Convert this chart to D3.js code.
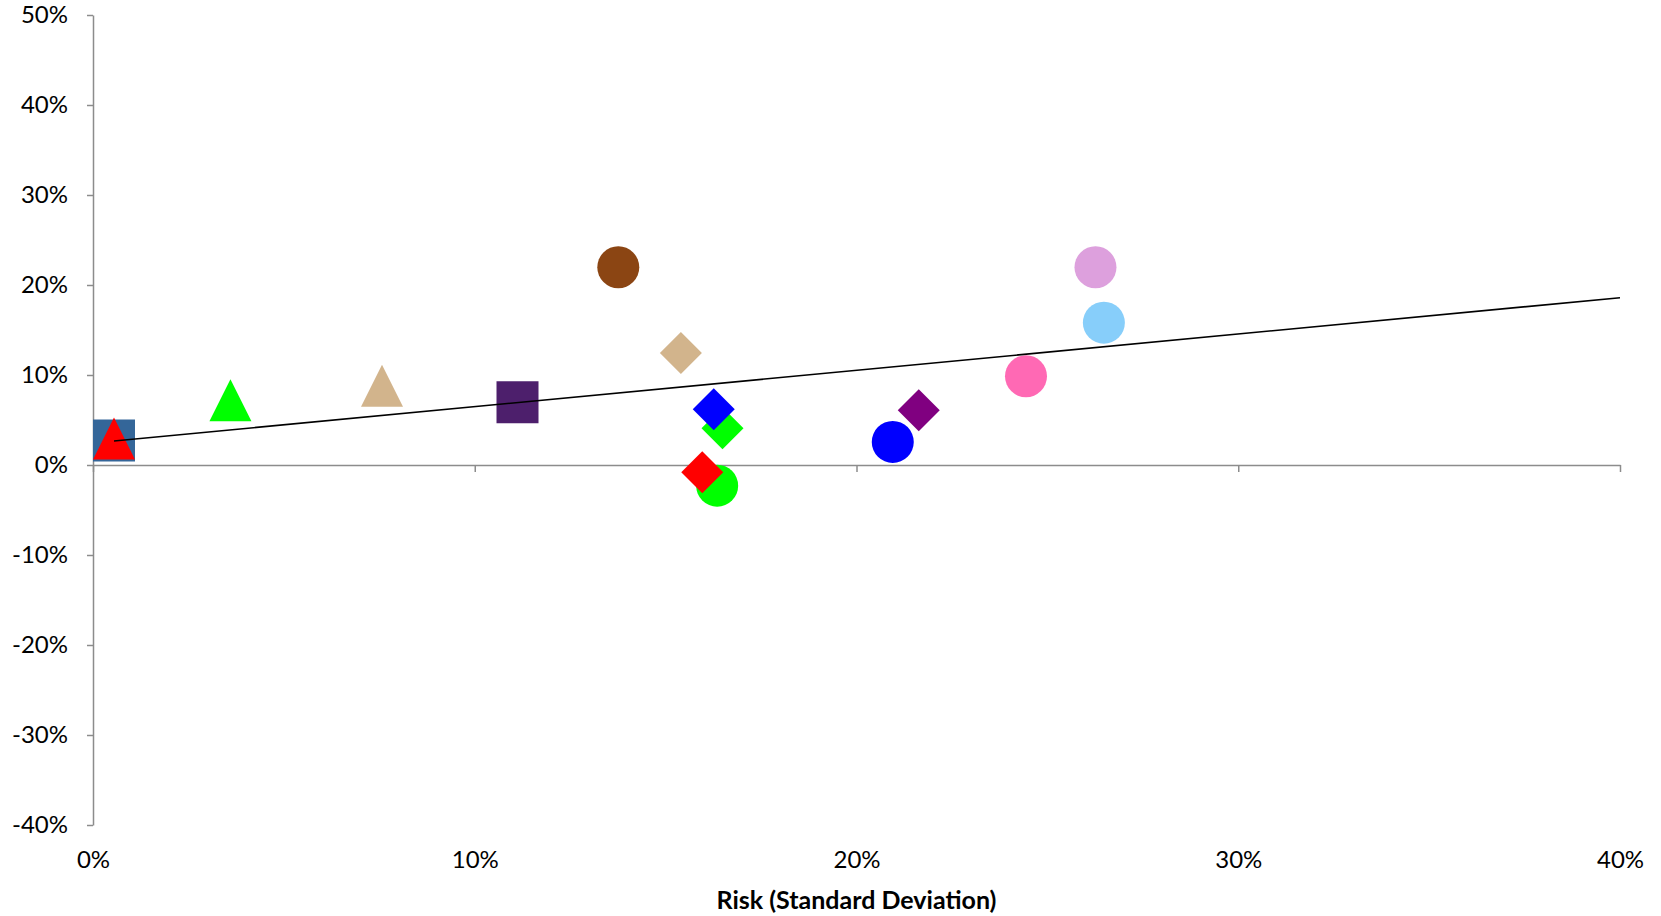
<!DOCTYPE html>
<html>
<head>
<meta charset="utf-8">
<script src="https://cdn.jsdelivr.net/npm/d3@7"></script>
<style>
  html, body { margin: 0; padding: 0; background: #fff; }
  svg { display: block; }
  text { font-family: Lato, "Open Sans", sans-serif; fill: #000; }
</style>
</head>
<body>
<svg id="chart" width="1661" height="916"></svg>
<script>
// ---- data (risk = standard deviation, return) ----
const riskX   = [0.0055, 0.0055, 0.036, 0.0757, 0.1112, 0.1376, 0.154, 0.1649, 0.1626, 0.1635, 0.1596, 0.2095, 0.2163, 0.2444, 0.2626, 0.2648];
const returnY = [0.0272, 0.0294, 0.0719, 0.088, 0.0697, 0.2197, 0.1244, 0.0407, 0.0619, -0.023, -0.0081, 0.0256, 0.0607, 0.0986, 0.2197, 0.1581];
const shapes  = ["square", "triangle", "triangle", "triangle", "square", "circle", "diamond", "diamond", "diamond", "circle", "diamond", "circle", "diamond", "circle", "circle", "circle"];
const colors  = ["#346699", "#FF0000", "#00FF00", "#D2B48C", "#4D1F6C", "#8B4513", "#D2B48C", "#00FF00", "#0000FF", "#00FF00", "#FF0000", "#0000FF", "#800080", "#FF69B4", "#DDA0DD", "#87CEFA"];

// trend (capital market) line endpoints
const lineX = [0.0055, 0.40];
const lineY = [0.0267, 0.1859];

const xTicks = [0, 0.1, 0.2, 0.3, 0.4];
const yTicks = [-0.4, -0.3, -0.2, -0.1, 0, 0.1, 0.2, 0.3, 0.4, 0.5];
const xTitle = "Risk (Standard Deviation)";

// ---- layout ----
const svg = d3.select("#chart");
const x = d3.scaleLinear().domain([0, 0.4]).range([93, 1620]);
const y = d3.scaleLinear().domain([-0.4, 0.5]).range([825, 15]);
const pct = d => Math.round(d * 100) + "%";
const axisColor = "#8C8C8C";
const markerSize = 42;

// y axis
const gy = svg.append("g")
  .attr("transform", `translate(${x(0)},0)`)
  .call(d3.axisLeft(y).tickValues(yTicks).tickFormat(pct).tickSize(6).tickPadding(19).tickSizeOuter(0));
gy.select(".domain").attr("stroke", axisColor).attr("stroke-width", 1.5);
gy.selectAll(".tick line").attr("stroke", axisColor).attr("stroke-width", 1.5);
gy.selectAll("text").style("font-size", "24px").attr("fill", "#000");

// x axis line at y = 0
const gx = svg.append("g")
  .attr("transform", `translate(0,${y(0)})`)
  .call(d3.axisBottom(x).tickValues(xTicks).tickFormat("").tickSize(7).tickSizeOuter(0));
gx.select(".domain").attr("stroke", axisColor).attr("stroke-width", 1.5);
gx.selectAll(".tick line").attr("stroke", axisColor).attr("stroke-width", 1.5);

// x tick labels at bottom
const gxl = svg.append("g")
  .attr("transform", `translate(0,${y(-0.4)})`)
  .call(d3.axisBottom(x).tickValues(xTicks).tickFormat(pct).tickSize(0));
gxl.select(".domain").remove();
gxl.selectAll("text").attr("dy", null).attr("y", 43).style("font-size", "24px").attr("fill", "#000");

// x title
svg.append("text")
  .attr("x", (x(0) + x(0.4)) / 2)
  .attr("y", 909)
  .attr("text-anchor", "middle")
  .style("font-size", "25px")
  .style("font-weight", "bold")
  .text(xTitle);

// custom symbols
const triSym = { draw(ctx, size) { const h = Math.sqrt(size) / 2; ctx.moveTo(0, -h); ctx.lineTo(h, h); ctx.lineTo(-h, h); ctx.closePath(); } };
const diaSym = { draw(ctx, size) { const h = Math.sqrt(size) / 2; ctx.moveTo(0, -h); ctx.lineTo(h, 0); ctx.lineTo(0, h); ctx.lineTo(-h, 0); ctx.closePath(); } };
const sqSym  = { draw(ctx, size) { const h = Math.sqrt(size) / 2; ctx.rect(-h, -h, 2 * h, 2 * h); } };
const circSym = { draw(ctx, size) { const r = Math.sqrt(size) / 2; ctx.moveTo(r, 0); ctx.arc(0, 0, r, 0, 2 * Math.PI); } };
const symTypes = { triangle: triSym, diamond: diaSym, square: sqSym, circle: circSym };

const pts = riskX.map((v, i) => ({ x: v, y: returnY[i], shape: shapes[i], color: colors[i] }));

// markers
const marks = svg.append("g");
marks.selectAll("path")
  .data(pts)
  .join("path")
  .attr("transform", d => `translate(${x(d.x)},${y(d.y)})`)
  .attr("d", d => d3.symbol().type(symTypes[d.shape]).size(markerSize * markerSize)())
  .attr("fill", d => d.color);

// trend line
svg.append("path")
  .datum(lineX.map((v, i) => [v, lineY[i]]))
  .attr("d", d3.line().x(d => x(d[0])).y(d => y(d[1])))
  .attr("fill", "none")
  .attr("stroke", "#000")
  .attr("stroke-width", 1.6);
</script>
</body>
</html>
